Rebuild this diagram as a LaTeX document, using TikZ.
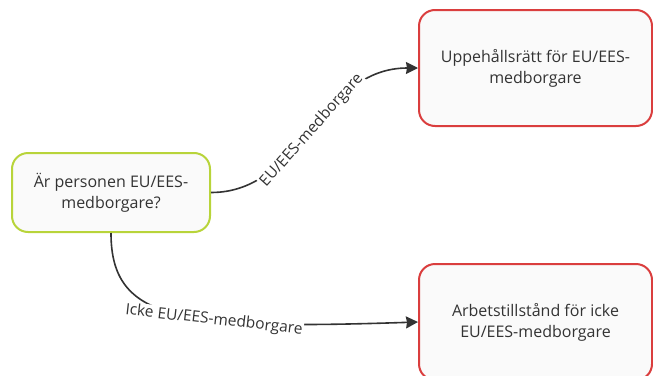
\documentclass[tikz,border=0pt]{standalone}
\usepackage{fontspec}
\setmainfont{Open Sans}
\usetikzlibrary{arrows.meta}
\definecolor{qgreen}{RGB}{184,212,58}
\definecolor{ared}{RGB}{218,62,62}
\definecolor{ink}{RGB}{51,51,51}
\definecolor{boxfill}{RGB}{250,250,250}

\begin{document}
\begin{tikzpicture}[x=1pt,y=-1pt,>={Stealth[length=12pt,width=12pt,inset=1pt]},line width=1.6pt,
  font=\fontsize{16}{21}\selectfont,text=ink,
  box/.style={rounded corners=16pt,line width=2pt,fill=boxfill,align=center,inner sep=0pt},
  question/.style={box,draw=qgreen,minimum width=198pt,minimum height=79pt},
  answer/.style={box,draw=ared,minimum width=233pt,minimum height=116pt},
  edgelbl/.style={fill=white,sloped,inner sep=1pt,font=\fontsize{15.5}{18}\selectfont}]
  \useasboundingbox (0,0) rectangle (653,375);
  \clip (0,0) rectangle (653,375);
  \node[question] (q) at (111,192.5) {Är personen EU/EES-\\medborgare?};
  \node[answer] (eu) at (535.5,68) {Uppehållsrätt för EU/EES-\\medborgare};
  \node[answer] (noneu) at (535.5,322) {Arbetstillstånd för icke\\EU/EES-medborgare};
  \draw[->,ink] (q.east) .. controls +(92,0) and +(-99,0) .. (eu.west)
    node[edgelbl,pos=.5] {EU/EES-medborgare};
  \draw[->,ink] (q.south) .. controls +(0,88) and +(-239,8) .. (noneu.west)
    node[edgelbl,pos=.62] {Icke EU/EES-medborgare};
\end{tikzpicture}
\end{document}
